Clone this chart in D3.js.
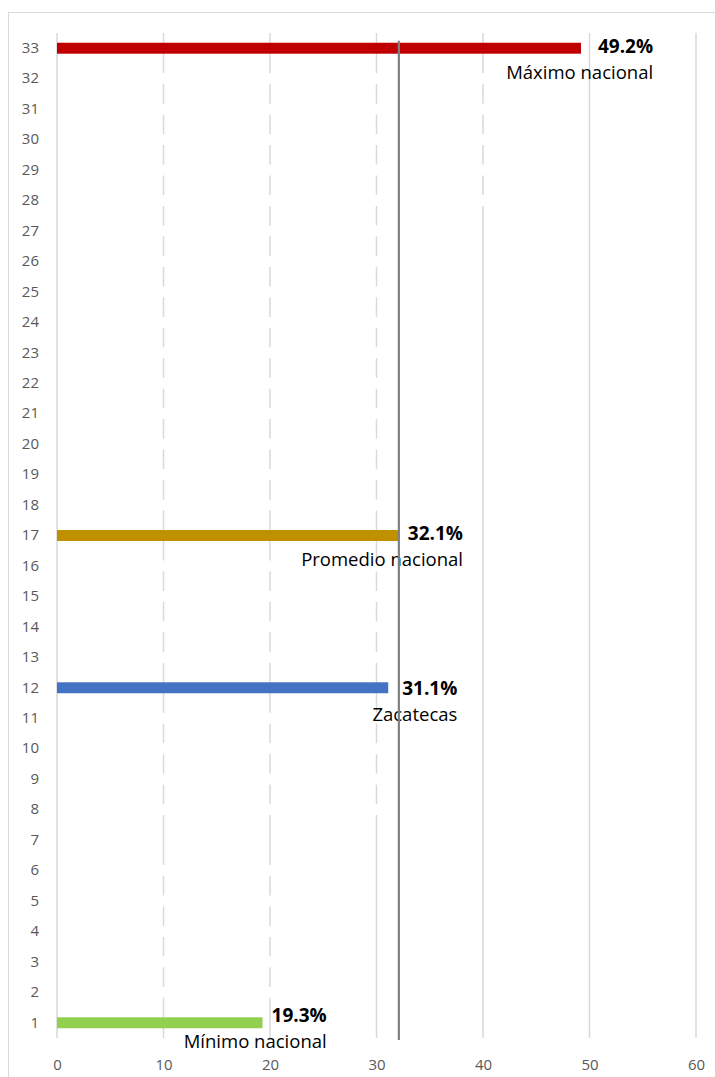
<!DOCTYPE html>
<html>
<head>
<meta charset="utf-8">
<script src="https://cdn.jsdelivr.net/npm/d3@7"></script>
<style>
  html, body { margin: 0; padding: 0; background: #fff; }
  svg { display: block; }
  text { font-family: "Open Sans", "Noto Sans", sans-serif; }
</style>
</head>
<body>
<svg id="chart" width="715" height="1077"></svg>
<script>
// Ranking positions (1 = lowest, 33 = highest)
const ranks = [1, 2, 3, 4, 5, 6, 7, 8, 9, 10, 11, 12, 13, 14, 15, 16, 17,
               18, 19, 20, 21, 22, 23, 24, 25, 26, 27, 28, 29, 30, 31, 32, 33];

// Percentage for each ranking position (null = no data)
const rankValues = [19.3, 22.5, 24.0, 25.3, 26.8, 28.0, null, 30.2, 30.5, 30.7, 30.9,
                    31.1, 31.3, 31.5, 31.8, 32.0, 32.1, 32.6, 33.2, 33.9, 34.5, 35.2,
                    36.0, 36.8, 37.6, 38.4, 39.3, 41.0, 42.3, 43.8, 45.4, 47.5, 49.2];

// Highlighted positions and their captions
const highlightRanks = [33, 17, 12, 1];
const highlightNames = ["Máximo nacional", "Promedio nacional", "Zacatecas", "Mínimo nacional"];

// National average reference
const nationalAverage = 32.1;

// Value axis ticks
const xTicks = [0, 10, 20, 30, 40, 50, 60];

// Styling and label placement
const highlightColors = { 33: "#C00000", 17: "#BF9000", 12: "#4472C4", 1: "#92D050" };
const labelDx = { 33: 17, 17: 9, 12: 14, 1: 9 };
const labelDy = { 33: 5, 17: 4, 12: 7, 1: -1 };
const captionGap = 26;

const svg = d3.select("#chart");

// Outer chart frame
svg.append("rect")
  .attr("x", 8.5).attr("y", 12.5)
  .attr("width", 760).attr("height", 1100)
  .attr("fill", "#fff")
  .attr("stroke", "#d9d9d9")
  .attr("stroke-width", 1);

const plot = { left: 57, right: 696, top: 33, bottom: 1038 };

const x = d3.scaleLinear().domain([0, 60]).range([plot.left, plot.right]);
const y = d3.scaleBand()
  .domain(ranks.slice().reverse())
  .range([plot.top, plot.bottom])
  .paddingInner(0.64)
  .paddingOuter(0.32);

const rows = ranks.map((r, i) => ({ rank: r, value: rankValues[i] }));

// Vertical gridlines (except zero)
svg.append("g")
  .selectAll("line")
  .data(xTicks.filter(t => t !== 0))
  .join("line")
  .attr("x1", d => x(d)).attr("x2", d => x(d))
  .attr("y1", plot.top).attr("y2", plot.bottom)
  .attr("stroke", "#d9d9d9")
  .attr("stroke-width", 1.5);

// Non-highlighted bars are drawn in white
svg.append("g")
  .selectAll("rect")
  .data(rows.filter(d => d.value != null && !highlightRanks.includes(d.rank)))
  .join("rect")
  .attr("x", x(0))
  .attr("y", d => y(d.rank))
  .attr("width", d => x(d.value) - x(0))
  .attr("height", y.bandwidth())
  .attr("fill", "#fff");

// Zero line
svg.append("line")
  .attr("x1", x(0)).attr("x2", x(0))
  .attr("y1", plot.top).attr("y2", plot.bottom)
  .attr("stroke", "#d9d9d9")
  .attr("stroke-width", 1.5);

// Highlighted bars
const hl = rows.filter(d => highlightRanks.includes(d.rank));
svg.append("g")
  .selectAll("rect")
  .data(hl)
  .join("rect")
  .attr("x", x(0))
  .attr("y", d => y(d.rank))
  .attr("width", d => x(d.value) - x(0))
  .attr("height", y.bandwidth())
  .attr("fill", d => highlightColors[d.rank]);

// Y axis (ranking positions)
const yAxis = svg.append("g")
  .attr("transform", `translate(${plot.left},0)`)
  .call(d3.axisLeft(y).tickSize(0).tickPadding(18));
yAxis.select(".domain").remove();
yAxis.selectAll("text")
  .attr("fill", "#595959")
  .style("font-size", "15px")
  .style("font-family", "'Open Sans', sans-serif");

// X axis
const xAxis = svg.append("g")
  .attr("transform", `translate(0,${plot.bottom})`)
  .call(d3.axisBottom(x).tickValues(xTicks).tickSize(0).tickPadding(21));
xAxis.select(".domain").remove();
xAxis.selectAll("text")
  .attr("fill", "#595959")
  .style("font-size", "15px")
  .style("font-family", "'Open Sans', sans-serif");

// Data labels: value and caption, right-aligned as a block
const fmt = d3.format(".1f");
const labels = svg.append("g");
hl.forEach(d => {
  const name = highlightNames[highlightRanks.indexOf(d.rank)];
  const cy = y(d.rank) + y.bandwidth() / 2;
  const g = labels.append("g");
  const val = g.append("text")
    .attr("x", x(d.value) + labelDx[d.rank])
    .attr("y", cy + labelDy[d.rank])
    .attr("fill", "#000")
    .style("font-size", "19px")
    .style("font-weight", "bold")
    .text(fmt(d.value) + "%");
  const right = x(d.value) + labelDx[d.rank] + val.node().getComputedTextLength();
  g.append("text")
    .attr("x", right)
    .attr("y", cy + labelDy[d.rank] + captionGap)
    .attr("text-anchor", "end")
    .attr("fill", "#000")
    .style("font-size", "18.5px")
    .text(name);
});

// National average line
svg.append("line")
  .attr("x1", x(nationalAverage)).attr("x2", x(nationalAverage))
  .attr("y1", y(33) - 2)
  .attr("y2", plot.bottom + 2)
  .attr("stroke", "#808080")
  .attr("stroke-width", 2.2);
</script>
</body>
</html>
